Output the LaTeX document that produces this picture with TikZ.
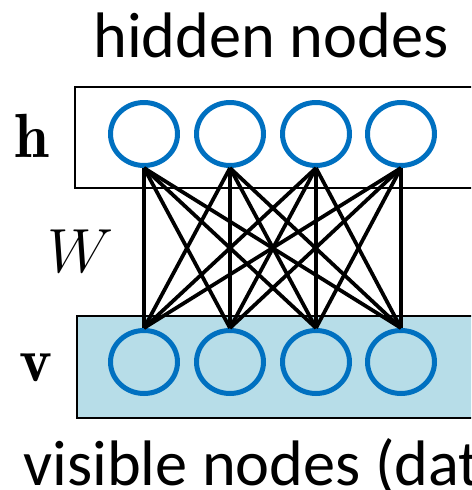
\RequirePackage{fix-cm}
\documentclass[tikz,border=0pt]{standalone}
\usepackage{fontspec}
\usetikzlibrary{shapes.geometric}
\newfontfamily\labelfont{Carlito}
\definecolor{unitblue}{HTML}{0070C0}
\definecolor{layerfill}{HTML}{B7DDE8}
\tikzset{
  unit/.style={ellipse, draw=unitblue, line width=0.1cm, minimum width=1.34cm, minimum height=1.26cm, inner sep=0pt},
  layerbox/.style={draw=black, line width=0.045cm},
  weight/.style={line width=0.075cm},
  caption/.style={font=\labelfont\fontsize{36.6}{42}\selectfont, inner sep=0pt},
  symbol/.style={font=\fontsize{35.5}{42}\selectfont, inner sep=0pt}
}

\begin{document}
\begin{tikzpicture}[x=0.02cm, y=-0.02cm]
  \useasboundingbox (0,0) rectangle (471,490);
  \clip (0,0) rectangle (471,490);
  % layers
  \draw[layerbox] (75,87) rectangle (540,188);
  \draw[layerbox, fill=layerfill] (77,316) rectangle (540,418);
  % units
  \node[unit] (h1) at (144,134) {};
  \node[unit] (h2) at (230,134) {};
  \node[unit] (h3) at (316,134) {};
  \node[unit] (h4) at (401,134) {};
  \node[unit] (v1) at (144,362) {};
  \node[unit] (v2) at (230,362) {};
  \node[unit] (v3) at (316,362) {};
  \node[unit] (v4) at (401,362) {};
  % weights
  \foreach \i in {1,...,4}
    \foreach \j in {1,...,4}
      \draw[weight] (h\i.south) -- (v\j.north);
  % labels
  \node[caption, anchor=base] (hiddenlabel) at (271,57) {hidden nodes};
  \node[caption, anchor=base west] (visiblelabel) at (23,485) {visible nodes (data)};
  \node[symbol] (hlabel) at (32,136) {$\mathbf{h}$};
  \node[symbol] (vlabel) at (36,368) {$\mathbf{v}$};
  \node[symbol] (wlabel) at (81,251) {$W$};
\end{tikzpicture}
\end{document}
